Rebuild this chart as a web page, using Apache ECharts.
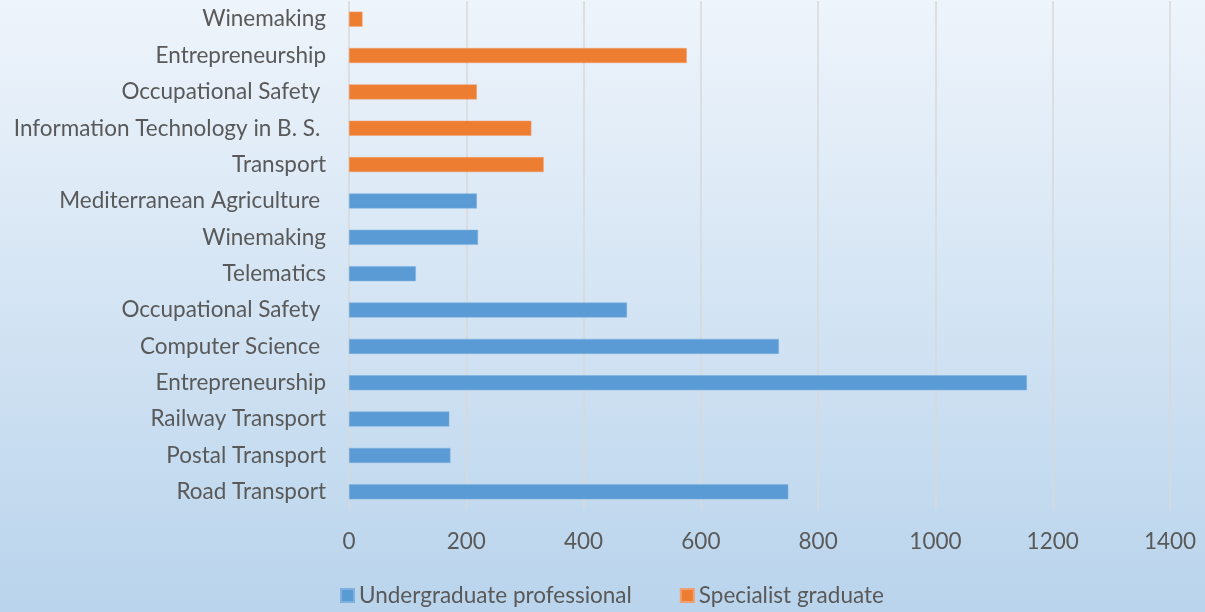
<!DOCTYPE html>
<html>
<head>
<meta charset="utf-8">
<script src="https://cdn.jsdelivr.net/npm/echarts@6/dist/echarts.min.js"></script>
<style>html,body{margin:0;padding:0;}#c{width:1205px;height:612px;}</style>
</head>
<body>
<div id="c"></div>
<script>
const categories = ["Road Transport", "Postal Transport", "Railway Transport", "Entrepreneurship", "Computer Science ", "Occupational Safety ", "Telematics", "Winemaking", "Mediterranean Agriculture ", "Transport", "Information Technology in B. S. ", "Occupational Safety ", "Entrepreneurship", "Winemaking"];
const undergraduate = [749, 173, 171, 1156, 733, 474, 114, 220, 218, null, null, null, null, null];
const specialist = [null, null, null, null, null, null, null, null, null, 332, 311, 218, 576, 23];
const xTicks = [0, 200, 400, 600, 800, 1000, 1200, 1400];

const chart = echarts.init(document.getElementById('c'));
const font = 'Lato';
const fs = 22.5;
chart.setOption({
  animation: false,
  backgroundColor: {type: 'linear', x: 0, y: 0, x2: 0, y2: 1, colorStops: [{offset: 0, color: '#eef4fb'}, {offset: 1, color: '#b9d4ec'}]},
  grid: {left: 349, right: 35, top: 1, bottom: 102, containLabel: false},
  legend: {
    bottom: 0, left: 335, itemWidth: 13, itemHeight: 13, itemGap: 48, icon: 'rect',
    textStyle: {fontFamily: font, fontSize: fs, color: '#595959'},
    data: ['Undergraduate professional', 'Specialist graduate']
  },
  xAxis: {
    type: 'value', min: xTicks[0], max: xTicks[xTicks.length - 1], interval: 200,
    axisLine: {show: false}, axisTick: {show: false},
    axisLabel: {fontFamily: font, fontSize: fs, color: '#595959', margin: 20, formatter: v => String(v)},
    splitLine: {lineStyle: {color: '#d9d9d9', width: 1.5}}
  },
  yAxis: {
    type: 'category', data: categories,
    axisLine: {show: false}, axisTick: {show: false},
    axisLabel: {fontFamily: font, fontSize: fs, color: '#595959', margin: 23},
    splitLine: {show: false}
  },
  series: [
    {name: 'Undergraduate professional', type: 'bar', data: undergraduate, barWidth: 15, barGap: '-100%',
     itemStyle: {color: '#5b9bd5', borderColor: '#7fb0de', borderWidth: 0.5}},
    {name: 'Specialist graduate', type: 'bar', data: specialist, barWidth: 15, barGap: '-100%',
     itemStyle: {color: '#ed7d31', borderColor: '#f0a070', borderWidth: 0.5}}
  ]
});
</script>
</body>
</html>
